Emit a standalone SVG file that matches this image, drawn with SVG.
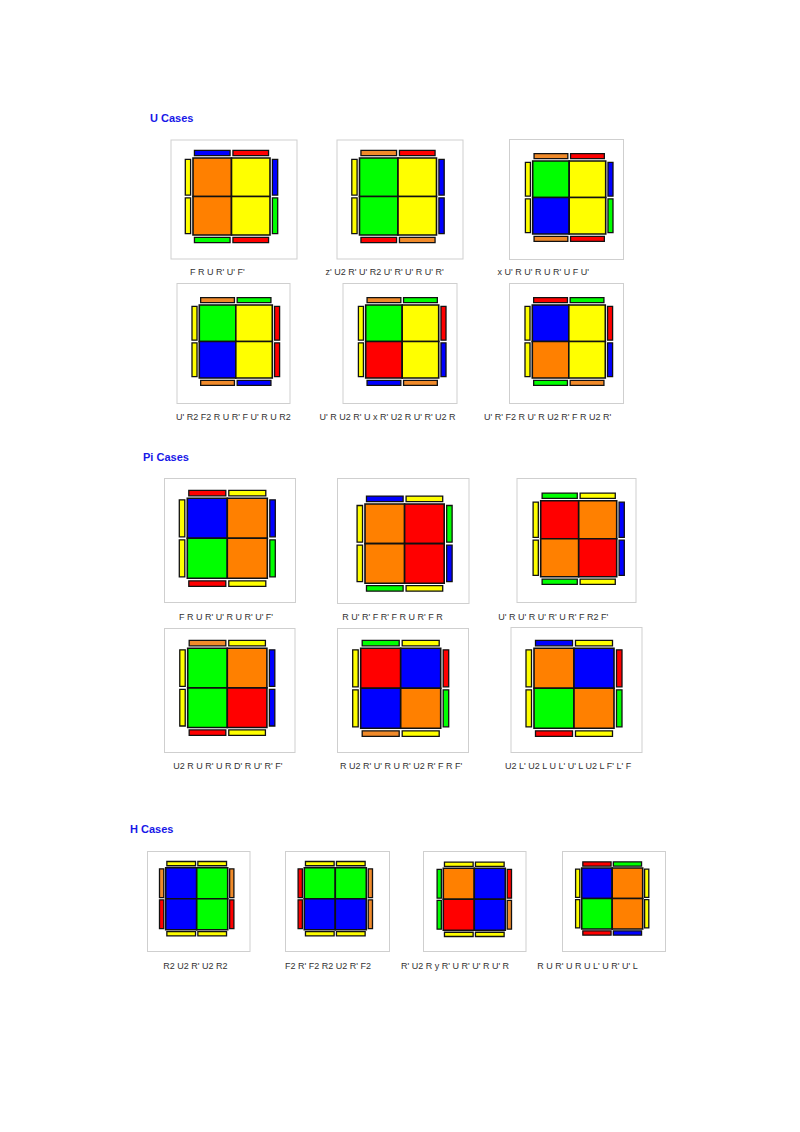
<svg xmlns="http://www.w3.org/2000/svg" width="800" height="1132" viewBox="0 0 800 1132">
<style>
.bg{fill:#fff}
.frame{fill:#fff;stroke:#cfcfcf;stroke-width:1}
.c{stroke:#111;stroke-width:1.6;vector-effect:non-scaling-stroke}
.s{stroke:#111;stroke-width:1.3;vector-effect:non-scaling-stroke}
.o{fill:#ff8000}.y{fill:#ffff00}.g{fill:#00ff00}.b{fill:#0000ff}.r{fill:#ff0000}.so{fill:#f08a2a}
.title{font-family:"Liberation Sans",Arial,sans-serif;font-weight:bold;font-size:11px;fill:#1818e8}
.lbl{font-family:"Liberation Sans",Arial,sans-serif;font-size:9px;fill:#333}
</style>
<rect class="bg" x="0" y="0" width="800" height="1132"/>
<text class="title" x="150" y="122">U Cases</text>
<text class="title" x="143" y="460.5">Pi Cases</text>
<text class="title" x="130" y="832.5">H Cases</text>

<!-- U cases -->
<g id="u1">
<rect class="frame" x="171" y="140" width="126" height="119"/>
<g transform="translate(193,158) scale(0.9625)">
<rect class="c o" x="0" y="0" width="40" height="40"/><rect class="c y" x="40" y="0" width="40" height="40"/>
<rect class="c o" x="0" y="40" width="40" height="40"/><rect class="c y" x="40" y="40" width="40" height="40"/>
<rect class="s b" x="1.5" y="-8" width="37" height="5.5"/><rect class="s r" x="41.5" y="-8" width="37" height="5.5"/>
<rect class="s g" x="1.5" y="82.5" width="37" height="5.5"/><rect class="s r" x="41.5" y="82.5" width="37" height="5.5"/>
<rect class="s y" x="-8" y="1.5" width="5.5" height="37"/><rect class="s y" x="-8" y="41.5" width="5.5" height="37"/>
<rect class="s b" x="82.5" y="1.5" width="5.5" height="37"/><rect class="s g" x="82.5" y="41.5" width="5.5" height="37"/>
</g>
<text class="lbl" x="190" y="275">F R U R' U' F'</text>
</g>

<g id="u2">
<rect class="frame" x="337" y="140" width="126" height="119"/>
<g transform="translate(359.5,158) scale(0.9625)">
<rect class="c g" x="0" y="0" width="40" height="40"/><rect class="c y" x="40" y="0" width="40" height="40"/>
<rect class="c g" x="0" y="40" width="40" height="40"/><rect class="c y" x="40" y="40" width="40" height="40"/>
<rect class="s so" x="1.5" y="-8" width="37" height="5.5"/><rect class="s r" x="41.5" y="-8" width="37" height="5.5"/>
<rect class="s r" x="1.5" y="82.5" width="37" height="5.5"/><rect class="s so" x="41.5" y="82.5" width="37" height="5.5"/>
<rect class="s y" x="-8" y="1.5" width="5.5" height="37"/><rect class="s y" x="-8" y="41.5" width="5.5" height="37"/>
<rect class="s b" x="82.5" y="1.5" width="5.5" height="37"/><rect class="s b" x="82.5" y="41.5" width="5.5" height="37"/>
</g>
<text class="lbl" x="325.5" y="275">z' U2 R' U' R2 U' R' U' R U' R'</text>
</g>

<g id="u3">
<rect class="frame" x="509.5" y="139.5" width="114" height="120"/>
<g transform="translate(532.7,161) scale(0.9125)">
<rect class="c g" x="0" y="0" width="40" height="40"/><rect class="c y" x="40" y="0" width="40" height="40"/>
<rect class="c b" x="0" y="40" width="40" height="40"/><rect class="c y" x="40" y="40" width="40" height="40"/>
<rect class="s so" x="1.5" y="-8" width="37" height="5.5"/><rect class="s r" x="41.5" y="-8" width="37" height="5.5"/>
<rect class="s so" x="1.5" y="82.5" width="37" height="5.5"/><rect class="s r" x="41.5" y="82.5" width="37" height="5.5"/>
<rect class="s y" x="-8" y="1.5" width="5.5" height="37"/><rect class="s y" x="-8" y="41.5" width="5.5" height="37"/>
<rect class="s b" x="82.5" y="1.5" width="5.5" height="37"/><rect class="s g" x="82.5" y="41.5" width="5.5" height="37"/>
</g>
<text class="lbl" x="497.5" y="274.5">x U' R U' R U R' U F U'</text>
</g>

<g id="u4">
<rect class="frame" x="177" y="283.5" width="113" height="120"/>
<g transform="translate(199.3,305) scale(0.9125)">
<rect class="c g" x="0" y="0" width="40" height="40"/><rect class="c y" x="40" y="0" width="40" height="40"/>
<rect class="c b" x="0" y="40" width="40" height="40"/><rect class="c y" x="40" y="40" width="40" height="40"/>
<rect class="s so" x="1.5" y="-8" width="37" height="5.5"/><rect class="s g" x="41.5" y="-8" width="37" height="5.5"/>
<rect class="s so" x="1.5" y="82.5" width="37" height="5.5"/><rect class="s b" x="41.5" y="82.5" width="37" height="5.5"/>
<rect class="s y" x="-8" y="1.5" width="5.5" height="37"/><rect class="s y" x="-8" y="41.5" width="5.5" height="37"/>
<rect class="s r" x="82.5" y="1.5" width="5.5" height="37"/><rect class="s r" x="82.5" y="41.5" width="5.5" height="37"/>
</g>
<text class="lbl" x="176" y="419.5">U' R2 F2 R U R' F U' R U R2</text>
</g>

<g id="u5">
<rect class="frame" x="343" y="283.5" width="114" height="120"/>
<g transform="translate(365.7,305) scale(0.9125)">
<rect class="c g" x="0" y="0" width="40" height="40"/><rect class="c y" x="40" y="0" width="40" height="40"/>
<rect class="c r" x="0" y="40" width="40" height="40"/><rect class="c y" x="40" y="40" width="40" height="40"/>
<rect class="s so" x="1.5" y="-8" width="37" height="5.5"/><rect class="s g" x="41.5" y="-8" width="37" height="5.5"/>
<rect class="s b" x="1.5" y="82.5" width="37" height="5.5"/><rect class="s so" x="41.5" y="82.5" width="37" height="5.5"/>
<rect class="s y" x="-8" y="1.5" width="5.5" height="37"/><rect class="s y" x="-8" y="41.5" width="5.5" height="37"/>
<rect class="s r" x="82.5" y="1.5" width="5.5" height="37"/><rect class="s b" x="82.5" y="41.5" width="5.5" height="37"/>
</g>
<text class="lbl" x="319.5" y="419.5">U' R U2 R' U x R' U2 R U' R' U2 R</text>
</g>

<g id="u6">
<rect class="frame" x="509.5" y="283.5" width="114" height="120"/>
<g transform="translate(532.3,305) scale(0.9125)">
<rect class="c b" x="0" y="0" width="40" height="40"/><rect class="c y" x="40" y="0" width="40" height="40"/>
<rect class="c o" x="0" y="40" width="40" height="40"/><rect class="c y" x="40" y="40" width="40" height="40"/>
<rect class="s r" x="1.5" y="-8" width="37" height="5.5"/><rect class="s g" x="41.5" y="-8" width="37" height="5.5"/>
<rect class="s g" x="1.5" y="82.5" width="37" height="5.5"/><rect class="s so" x="41.5" y="82.5" width="37" height="5.5"/>
<rect class="s y" x="-8" y="1.5" width="5.5" height="37"/><rect class="s y" x="-8" y="41.5" width="5.5" height="37"/>
<rect class="s r" x="82.5" y="1.5" width="5.5" height="37"/><rect class="s b" x="82.5" y="41.5" width="5.5" height="37"/>
</g>
<text class="lbl" x="484" y="419.5">U' R' F2 R U' R U2 R' F R U2 R'</text>
</g>

<!-- Pi cases -->
<g id="pi1">
<rect class="frame" x="164.5" y="478.5" width="131" height="124"/>
<g transform="translate(187.3,498.3) scale(1)">
<rect class="c b" x="0" y="0" width="40" height="40"/><rect class="c o" x="40" y="0" width="40" height="40"/>
<rect class="c g" x="0" y="40" width="40" height="40"/><rect class="c o" x="40" y="40" width="40" height="40"/>
<rect class="s r" x="1.5" y="-8" width="37" height="5.5"/><rect class="s y" x="41.5" y="-8" width="37" height="5.5"/>
<rect class="s r" x="1.5" y="82.5" width="37" height="5.5"/><rect class="s y" x="41.5" y="82.5" width="37" height="5.5"/>
<rect class="s y" x="-8" y="1.5" width="5.5" height="37"/><rect class="s y" x="-8" y="41.5" width="5.5" height="37"/>
<rect class="s b" x="82.5" y="1.5" width="5.5" height="37"/><rect class="s g" x="82.5" y="41.5" width="5.5" height="37"/>
</g>
<text class="lbl" x="179" y="620">F R U R' U' R U R' U' F'</text>
</g>

<g id="pi2">
<rect class="frame" x="337.5" y="478.5" width="131.5" height="125"/>
<g transform="translate(365,504) scale(0.99)">
<rect class="c o" x="0" y="0" width="40" height="40"/><rect class="c r" x="40" y="0" width="40" height="40"/>
<rect class="c o" x="0" y="40" width="40" height="40"/><rect class="c r" x="40" y="40" width="40" height="40"/>
<rect class="s b" x="1.5" y="-8" width="37" height="5.5"/><rect class="s y" x="41.5" y="-8" width="37" height="5.5"/>
<rect class="s g" x="1.5" y="82.5" width="37" height="5.5"/><rect class="s y" x="41.5" y="82.5" width="37" height="5.5"/>
<rect class="s y" x="-8" y="1.5" width="5.5" height="37"/><rect class="s y" x="-8" y="41.5" width="5.5" height="37"/>
<rect class="s g" x="82.5" y="1.5" width="5.5" height="37"/><rect class="s b" x="82.5" y="41.5" width="5.5" height="37"/>
</g>
<text class="lbl" x="342.3" y="620">R U' R' F R' F R U R' F R</text>
</g>

<g id="pi3">
<rect class="frame" x="517" y="478.5" width="119" height="124"/>
<g transform="translate(540.7,500.7) scale(0.95)">
<rect class="c r" x="0" y="0" width="40" height="40"/><rect class="c o" x="40" y="0" width="40" height="40"/>
<rect class="c o" x="0" y="40" width="40" height="40"/><rect class="c r" x="40" y="40" width="40" height="40"/>
<rect class="s g" x="1.5" y="-8" width="37" height="5.5"/><rect class="s y" x="41.5" y="-8" width="37" height="5.5"/>
<rect class="s g" x="1.5" y="82.5" width="37" height="5.5"/><rect class="s y" x="41.5" y="82.5" width="37" height="5.5"/>
<rect class="s y" x="-8" y="1.5" width="5.5" height="37"/><rect class="s y" x="-8" y="41.5" width="5.5" height="37"/>
<rect class="s b" x="82.5" y="1.5" width="5.5" height="37"/><rect class="s b" x="82.5" y="41.5" width="5.5" height="37"/>
</g>
<text class="lbl" x="498.3" y="619.5">U' R U' R U' R' U R' F R2 F'</text>
</g>

<g id="pi4">
<rect class="frame" x="164.5" y="628.5" width="130.5" height="124"/>
<g transform="translate(187.7,648.3) scale(0.99)">
<rect class="c g" x="0" y="0" width="40" height="40"/><rect class="c o" x="40" y="0" width="40" height="40"/>
<rect class="c g" x="0" y="40" width="40" height="40"/><rect class="c r" x="40" y="40" width="40" height="40"/>
<rect class="s so" x="1.5" y="-8" width="37" height="5.5"/><rect class="s y" x="41.5" y="-8" width="37" height="5.5"/>
<rect class="s r" x="1.5" y="82.5" width="37" height="5.5"/><rect class="s y" x="41.5" y="82.5" width="37" height="5.5"/>
<rect class="s y" x="-8" y="1.5" width="5.5" height="37"/><rect class="s y" x="-8" y="41.5" width="5.5" height="37"/>
<rect class="s b" x="82.5" y="1.5" width="5.5" height="37"/><rect class="s b" x="82.5" y="41.5" width="5.5" height="37"/>
</g>
<text class="lbl" x="173.3" y="768.5">U2 R U R' U R D' R U' R' F'</text>
</g>

<g id="pi5">
<rect class="frame" x="337.5" y="628.5" width="131" height="124"/>
<g transform="translate(360.7,648.3) scale(1)">
<rect class="c r" x="0" y="0" width="40" height="40"/><rect class="c b" x="40" y="0" width="40" height="40"/>
<rect class="c b" x="0" y="40" width="40" height="40"/><rect class="c o" x="40" y="40" width="40" height="40"/>
<rect class="s g" x="1.5" y="-8" width="37" height="5.5"/><rect class="s y" x="41.5" y="-8" width="37" height="5.5"/>
<rect class="s so" x="1.5" y="82.5" width="37" height="5.5"/><rect class="s y" x="41.5" y="82.5" width="37" height="5.5"/>
<rect class="s y" x="-8" y="1.5" width="5.5" height="37"/><rect class="s y" x="-8" y="41.5" width="5.5" height="37"/>
<rect class="s r" x="82.5" y="1.5" width="5.5" height="37"/><rect class="s g" x="82.5" y="41.5" width="5.5" height="37"/>
</g>
<text class="lbl" x="340" y="768.5">R U2 R' U' R U R' U2 R' F R F'</text>
</g>

<g id="pi6">
<rect class="frame" x="511" y="627.5" width="131" height="125"/>
<g transform="translate(534,648.3) scale(1)">
<rect class="c o" x="0" y="0" width="40" height="40"/><rect class="c b" x="40" y="0" width="40" height="40"/>
<rect class="c g" x="0" y="40" width="40" height="40"/><rect class="c o" x="40" y="40" width="40" height="40"/>
<rect class="s b" x="1.5" y="-8" width="37" height="5.5"/><rect class="s y" x="41.5" y="-8" width="37" height="5.5"/>
<rect class="s r" x="1.5" y="82.5" width="37" height="5.5"/><rect class="s y" x="41.5" y="82.5" width="37" height="5.5"/>
<rect class="s y" x="-8" y="1.5" width="5.5" height="37"/><rect class="s y" x="-8" y="41.5" width="5.5" height="37"/>
<rect class="s r" x="82.5" y="1.5" width="5.5" height="37"/><rect class="s g" x="82.5" y="41.5" width="5.5" height="37"/>
</g>
<text class="lbl" x="505" y="768.5">U2 L' U2 L U L' U' L U2 L F' L' F</text>
</g>

<!-- H cases -->
<g id="h1">
<rect class="frame" x="147.5" y="851.5" width="102.5" height="100"/>
<g transform="translate(165.7,867.7) scale(0.775)">
<rect class="c b" x="0" y="0" width="40" height="40"/><rect class="c g" x="40" y="0" width="40" height="40"/>
<rect class="c b" x="0" y="40" width="40" height="40"/><rect class="c g" x="40" y="40" width="40" height="40"/>
<rect class="s y" x="1.5" y="-8" width="37" height="5.5"/><rect class="s y" x="41.5" y="-8" width="37" height="5.5"/>
<rect class="s y" x="1.5" y="82.5" width="37" height="5.5"/><rect class="s y" x="41.5" y="82.5" width="37" height="5.5"/>
<rect class="s so" x="-8" y="1.5" width="5.5" height="37"/><rect class="s r" x="-8" y="41.5" width="5.5" height="37"/>
<rect class="s so" x="82.5" y="1.5" width="5.5" height="37"/><rect class="s r" x="82.5" y="41.5" width="5.5" height="37"/>
</g>
<text class="lbl" x="163.3" y="969">R2 U2 R' U2 R2</text>
</g>

<g id="h2">
<rect class="frame" x="285.5" y="851.5" width="104" height="100"/>
<g transform="translate(304.3,867.7) scale(0.775)">
<rect class="c g" x="0" y="0" width="40" height="40"/><rect class="c g" x="40" y="0" width="40" height="40"/>
<rect class="c b" x="0" y="40" width="40" height="40"/><rect class="c b" x="40" y="40" width="40" height="40"/>
<rect class="s y" x="1.5" y="-8" width="37" height="5.5"/><rect class="s y" x="41.5" y="-8" width="37" height="5.5"/>
<rect class="s y" x="1.5" y="82.5" width="37" height="5.5"/><rect class="s y" x="41.5" y="82.5" width="37" height="5.5"/>
<rect class="s r" x="-8" y="1.5" width="5.5" height="37"/><rect class="s r" x="-8" y="41.5" width="5.5" height="37"/>
<rect class="s so" x="82.5" y="1.5" width="5.5" height="37"/><rect class="s so" x="82.5" y="41.5" width="5.5" height="37"/>
</g>
<text class="lbl" x="285" y="969">F2 R' F2 R2 U2 R' F2</text>
</g>

<g id="h3">
<rect class="frame" x="423.5" y="851.5" width="102.5" height="100"/>
<g transform="translate(443.3,868.3) scale(0.775)">
<rect class="c o" x="0" y="0" width="40" height="40"/><rect class="c b" x="40" y="0" width="40" height="40"/>
<rect class="c r" x="0" y="40" width="40" height="40"/><rect class="c b" x="40" y="40" width="40" height="40"/>
<rect class="s y" x="1.5" y="-8" width="37" height="5.5"/><rect class="s y" x="41.5" y="-8" width="37" height="5.5"/>
<rect class="s y" x="1.5" y="82.5" width="37" height="5.5"/><rect class="s y" x="41.5" y="82.5" width="37" height="5.5"/>
<rect class="s g" x="-8" y="1.5" width="5.5" height="37"/><rect class="s g" x="-8" y="41.5" width="5.5" height="37"/>
<rect class="s r" x="82.5" y="1.5" width="5.5" height="37"/><rect class="s so" x="82.5" y="41.5" width="5.5" height="37"/>
</g>
<text class="lbl" x="401" y="969">R' U2 R y R' U R' U' R U' R</text>
</g>

<g id="h4">
<rect class="frame" x="562.5" y="851.5" width="103" height="100"/>
<g transform="translate(581.7,868) scale(0.7625)">
<rect class="c b" x="0" y="0" width="40" height="40"/><rect class="c o" x="40" y="0" width="40" height="40"/>
<rect class="c g" x="0" y="40" width="40" height="40"/><rect class="c o" x="40" y="40" width="40" height="40"/>
<rect class="s r" x="1.5" y="-8" width="37" height="5.5"/><rect class="s g" x="41.5" y="-8" width="37" height="5.5"/>
<rect class="s r" x="1.5" y="82.5" width="37" height="5.5"/><rect class="s b" x="41.5" y="82.5" width="37" height="5.5"/>
<rect class="s y" x="-8" y="1.5" width="5.5" height="37"/><rect class="s y" x="-8" y="41.5" width="5.5" height="37"/>
<rect class="s y" x="82.5" y="1.5" width="5.5" height="37"/><rect class="s y" x="82.5" y="41.5" width="5.5" height="37"/>
</g>
<text class="lbl" x="537.3" y="969">R U R' U R U L' U R' U' L</text>
</g>
</svg>
